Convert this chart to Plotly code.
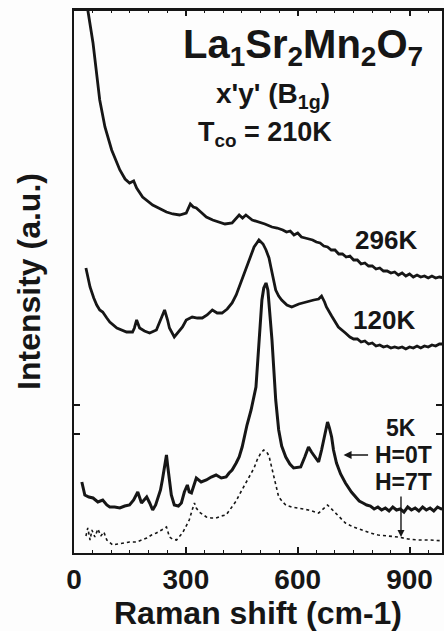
import plotly.graph_objects as go

# ---- data (Raman shift in cm-1, intensity in arbitrary units) ----
shift_296K = [33, 37, 51, 61, 69, 83, 101, 123, 137, 149, 160, 168, 184, 211, 230, 248, 265, 283, 301, 312,
              320, 328, 340, 355, 372, 389, 405, 424, 443, 452, 461, 478, 496, 512, 531, 545,
              560, 570, 580, 590, 600, 610, 620, 630, 640, 650, 660, 670, 680, 690, 700, 710, 720, 730,
              740, 750, 760, 770, 780, 790, 800, 810, 820, 830, 840, 850, 860, 870, 880, 890, 900, 910,
              920, 930, 940, 950, 960, 970, 980, 995]
int_296K = [570, 544, 511, 481, 454, 427, 404, 384, 375, 371, 373, 366, 357, 349, 345, 342, 340, 339, 341, 350,
            347, 346, 342, 337, 334, 332, 330, 331, 339, 336, 339, 334, 332, 330, 327, 326,
            324, 322, 323, 319, 321, 317, 316, 315, 314, 312, 311, 308, 307, 304, 304, 300, 300, 297,
            298, 294, 294, 290, 291, 288, 288, 285, 286, 283, 283, 281, 282, 279, 281, 278, 280, 277,
            279, 277, 278, 276, 278, 276, 277, 276]

shift_120K = [32, 43, 53, 61, 69, 77, 88, 96, 115, 128, 141, 157, 162, 168, 176, 189, 203, 221, 232, 243,
              251, 256, 269, 280, 291, 301, 317, 331, 344, 357, 371, 384, 397, 411, 424, 435, 443, 453, 461,
              472, 483, 496, 507, 515, 523, 528, 536, 541, 549, 557, 571, 584, 603, 621, 643, 656, 664, 672,
              677, 691, 709, 728, 740, 750, 760, 770, 780, 790, 800, 810, 820, 830, 840, 850, 860, 870,
              880, 890, 900, 910, 920, 930, 940, 950, 960, 970, 980, 995]
int_120K = [286, 267, 256, 249, 244, 242, 236, 232, 226, 224, 222, 222, 226, 234, 226, 223, 221, 224, 234, 244,
            234, 226, 217, 222, 227, 234, 237, 236, 236, 239, 244, 241, 241, 245, 251, 259, 267, 279, 287,
            297, 307, 314, 310, 304, 296, 287, 274, 264, 258, 254, 249, 247, 250, 252, 254, 255, 258, 252,
            247, 238, 227, 221, 217, 215, 215, 212, 213, 210, 211, 208, 209, 207, 208, 206, 207, 206,
            207, 205, 207, 206, 208, 206, 208, 207, 209, 208, 210, 210]

shift_5K_0T = [21, 29, 40, 51, 64, 77, 88, 96, 109, 123, 136, 149, 160, 171, 181, 195, 203, 211, 219, 224,
               232, 237, 243, 248, 251, 256, 261, 269, 280, 288, 296, 304, 309, 315, 323, 328, 341, 355, 368,
               381, 395, 408, 416, 424, 435, 443, 451, 456, 464, 475, 483, 488, 493, 499, 504, 509, 515, 520,
               525, 531, 536, 541, 549, 557, 568, 579, 589, 600, 608, 619, 629, 637, 643, 651, 656, 664, 669,
               675, 680, 685, 691, 696, 704, 715, 728, 744, 755, 765, 775, 785, 795, 805, 815, 825, 835,
               845, 855, 865, 875, 885, 895, 905, 915, 925, 935, 945, 955, 965, 975, 985, 995]
int_5K_0T = [72, 59, 57, 56, 52, 54, 49, 47, 47, 46, 48, 49, 54, 62, 51, 57, 51, 44, 49, 54,
             64, 74, 89, 99, 89, 74, 59, 49, 48, 51, 62, 69, 62, 61, 71, 76, 72, 74, 77,
             79, 76, 77, 81, 84, 91, 97, 107, 117, 129, 144, 159, 167, 194, 224, 254, 266, 271, 264,
             244, 214, 184, 154, 124, 108, 97, 90, 86, 87, 87, 97, 107, 102, 99, 94, 92, 104, 114,
             126, 132, 126, 117, 104, 91, 80, 71, 62, 57, 53, 51, 49, 48, 45, 47, 44, 46,
             43, 47, 44, 45, 42, 47, 44, 46, 43, 47, 44, 46, 43, 47, 45, 46]

shift_5K_7T = [32, 37, 43, 48, 56, 64, 72, 80, 88, 104, 117, 131, 149, 168, 181, 195, 208, 221, 235, 248,
               256, 264, 275, 283, 291, 301, 309, 317, 323, 328, 336, 355, 368, 381, 395, 408, 416, 424, 435,
               443, 456, 469, 483, 491, 501, 509, 517, 523, 531, 536, 544, 549, 560, 568, 584, 603, 629, 656,
               669, 680, 688, 701, 715, 728, 749, 771, 795, 816, 843, 869, 896, 923, 955, 995]
int_5K_7T = [18, 26, 14, 24, 17, 25, 18, 22, 14, 9, 10, 11, 12, 12, 14, 16, 19, 21, 24, 27,
             17, 15, 14, 17, 21, 28, 34, 44, 51, 46, 42, 37, 36, 36, 38, 39, 43, 47, 53,
             59, 68, 76, 86, 94, 101, 104, 102, 98, 86, 77, 64, 57, 52, 49, 47, 46, 44, 41,
             45, 49, 46, 41, 36, 31, 27, 24, 21, 19, 18, 17, 15, 14, 14, 13]

x_tick_vals = [0, 300, 600, 900]
x_tick_text = ["0", "300", "600", "900"]
y_tick_vals = [120, 149]

INK = "#161616"
FONT = "Liberation Sans, Arial, sans-serif"

fig = go.Figure()
fig.add_trace(go.Scatter(x=shift_296K, y=int_296K, mode="lines", name="296K",
                         line=dict(color=INK, width=2.8)))
fig.add_trace(go.Scatter(x=shift_120K, y=int_120K, mode="lines", name="120K",
                         line=dict(color=INK, width=2.8)))
fig.add_trace(go.Scatter(x=shift_5K_0T, y=int_5K_0T, mode="lines", name="5K H=0T",
                         line=dict(color=INK, width=3)))
fig.add_trace(go.Scatter(x=shift_5K_7T, y=int_5K_7T, mode="lines", name="5K H=7T",
                         line=dict(color=INK, width=1.6, dash="dot")))

def txt(x, y, s, size):
    fig.add_annotation(x=x, y=y, xref="x", yref="y", text="<b>" + s + "</b>", showarrow=False,
                       font=dict(family=FONT, size=size, color=INK),
                       xanchor="center", yanchor="middle")

txt(615, 507, "La<sub>1</sub>Sr<sub>2</sub>Mn<sub>2</sub>O<sub>7</sub>", 40)
txt(533, 459, "x'y' (B<sub>1g</sub>)", 28)
txt(511, 420, "T<sub>co</sub> = 210K", 27)
txt(837, 314, "296K", 26)
txt(832, 234, "120K", 26)
txt(877, 126, "5K", 23)
txt(883, 99, "H=0T", 23)
txt(883, 72, "H=7T", 23)

# arrows
fig.add_annotation(x=723, y=99, xref="x", yref="y", ax=26, ay=0, text="",
                   showarrow=True, arrowhead=2, arrowsize=1, arrowwidth=1.6, arrowcolor=INK)
fig.add_annotation(x=877, y=17, xref="x", yref="y", ax=0, ay=-42, text="",
                   showarrow=True, arrowhead=2, arrowsize=1, arrowwidth=1.4, arrowcolor=INK)

# top frame line
fig.add_shape(type="line", xref="paper", yref="paper", x0=0, x1=1, y0=1, y1=1,
              line=dict(color=INK, width=2), layer="above")

fig.update_layout(
    width=444, height=631,
    margin=dict(l=74, r=0, t=10, b=78),
    paper_bgcolor="#fdfdfd", plot_bgcolor="#fdfdfd",
    showlegend=False,
    font=dict(family=FONT, color=INK),
)
fig.update_xaxes(
    range=[0, 987], showgrid=False, zeroline=False,
    showline=True, linecolor=INK, linewidth=2, mirror="ticks",
    ticks="inside", ticklen=6, tickwidth=1.5, tickcolor=INK,
    tickvals=x_tick_vals, ticktext=["<b>" + t + "</b>" for t in x_tick_text],
    tickfont=dict(family=FONT, size=28, color=INK),
    minor=dict(dtick=50, tick0=0, ticks="inside", ticklen=3, tickwidth=1.2, tickcolor=INK),
    title=dict(text="<b>Raman shift (cm-1)</b>", standoff=6,
               font=dict(family=FONT, size=32, color=INK)),
)
fig.update_yaxes(
    range=[1, 544], showgrid=False, zeroline=False,
    showline=True, linecolor=INK, linewidth=2, mirror="ticks",
    ticks="inside", ticklen=6, tickwidth=1.5, tickcolor=INK,
    tickvals=y_tick_vals, showticklabels=False,
    title=dict(text="<b>Intensity (a.u.)</b>", standoff=22,
               font=dict(family=FONT, size=32, color=INK)),
)

fig.write_html("out.html")
